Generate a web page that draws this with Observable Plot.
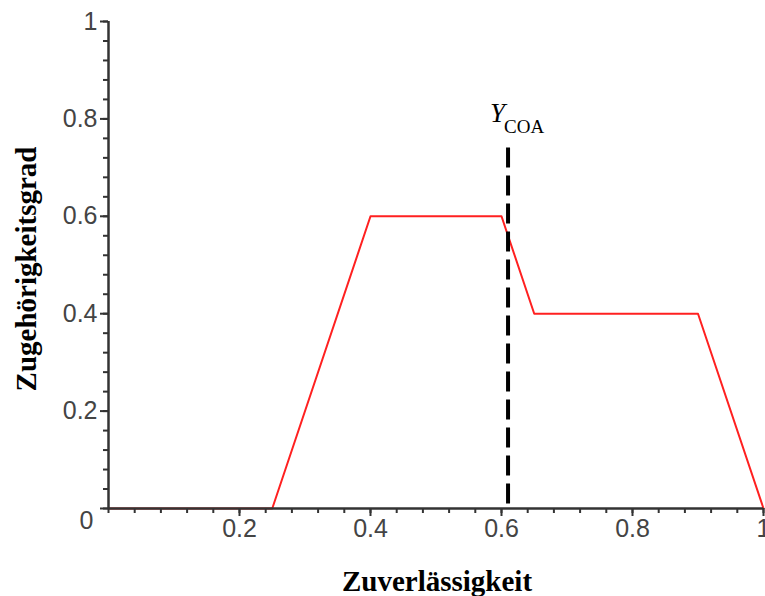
<!DOCTYPE html>
<html>
<head>
<meta charset="utf-8">
<script src="https://cdn.jsdelivr.net/npm/d3@7"></script>
<script src="https://cdn.jsdelivr.net/npm/@observablehq/plot@0.6"></script>
<style>
  html, body { margin: 0; padding: 0; background: white; overflow: hidden; }
  #chart svg { overflow: hidden; }
</style>
</head>
<body>
<div id="chart"></div>
<script>
// Membership function (Zuverlässigkeit -> Zugehörigkeitsgrad)
const reliability = [0, 0.25, 0.4, 0.6, 0.65, 0.9, 1];
const membership  = [0, 0,    0.6, 0.6, 0.4,  0.4, 0];
// Centre of area
const yCOA = 0.61;
const yCOATop = 0.74;
// Tick labels
const xTickValues = [0.2, 0.4, 0.6, 0.8, 1];
const yTickValues = [0, 0.2, 0.4, 0.6, 0.8, 1];
const minorTicks = d3.range(0, 26).map(i => +(i * 0.04).toFixed(2));
const xTitle = "Zuverlässigkeit";
const yTitle = "Zugehörigkeitsgrad";

const curve = reliability.map((x, i) => ({x, y: membership[i]}));

const sans = "'Liberation Sans', Arial, sans-serif";
const serif = "'Liberation Serif', 'Times New Roman', serif";
const axisColor = "#333";

const plot = Plot.plot({
  width: 765,
  height: 596,
  marginTop: 21,
  marginBottom: 88,
  marginLeft: 108,
  marginRight: 2,
  style: {background: "white", color: axisColor},
  x: {domain: [0, 1], axis: null},
  y: {domain: [0, 1], axis: null},
  marks: [
    // red membership curve
    Plot.line(curve, {x: "x", y: "y", stroke: "#ff2020", strokeWidth: 2}),
    // minor ticks
    Plot.axisX({ticks: minorTicks, tickSize: 5, tickFormat: () => "", label: null,
      stroke: axisColor, strokeWidth: 2, strokeOpacity: 1}),
    Plot.axisY({ticks: minorTicks, tickSize: 5, tickFormat: () => "", label: null,
      stroke: axisColor, strokeWidth: 2, strokeOpacity: 1}),
    // major ticks + labels
    Plot.axisX({ticks: xTickValues, tickSize: 8, tickPadding: 3, tickFormat: d => String(d),
      stroke: axisColor, strokeWidth: 2, strokeOpacity: 1, fill: "#444",
      fontSize: 25, fontFamily: sans, label: null}),
    Plot.axisY({ticks: yTickValues, tickSize: 8, tickPadding: 3, tickFormat: d => d === 0 ? "" : String(d),
      stroke: axisColor, strokeWidth: 2, strokeOpacity: 1, fill: "#444",
      fontSize: 25, fontFamily: sans, label: null}),
    // origin label
    Plot.text([{x: 0, y: 0, t: "0"}], {x: "x", y: "y", text: "t", textAnchor: "end", dx: -15, dy: 12,
      fontSize: 25, fontFamily: sans, fill: "#444"}),
    // axis lines
    Plot.ruleY([0], {stroke: axisColor, strokeWidth: 2.5}),
    Plot.ruleX([0], {stroke: axisColor, strokeWidth: 2.5}),
    // COA dashed line
    Plot.ruleX([yCOA], {y1: yCOATop, y2: 0, stroke: "black", strokeWidth: 4, strokeDasharray: "20,8"}),
    Plot.text([{x: yCOA, y: yCOATop}], {x: "x", y: "y", text: () => "Y", textAnchor: "end", dx: -3, dy: -35,
      fontSize: 27, fontFamily: serif, fontStyle: "italic", fill: "black"}),
    Plot.text([{x: yCOA, y: yCOATop}], {x: "x", y: "y", text: () => "COA", textAnchor: "start", dx: -4, dy: -21,
      fontSize: 19, fontFamily: serif, fill: "black"}),
    // axis titles
    Plot.text([xTitle], {frameAnchor: "bottom", text: d => d, textAnchor: "middle", dy: 82, dx: 1,
      fontSize: 29, fontWeight: "bold", fontFamily: serif, fill: "black"}),
    Plot.text([yTitle], {frameAnchor: "left", text: d => d, rotate: -90, textAnchor: "middle", lineAnchor: "middle",
      dx: -82, dy: 4,
      fontSize: 29, fontWeight: "bold", fontFamily: serif, fill: "black"})
  ]
});

document.getElementById("chart").appendChild(plot);
</script>
</body>
</html>
